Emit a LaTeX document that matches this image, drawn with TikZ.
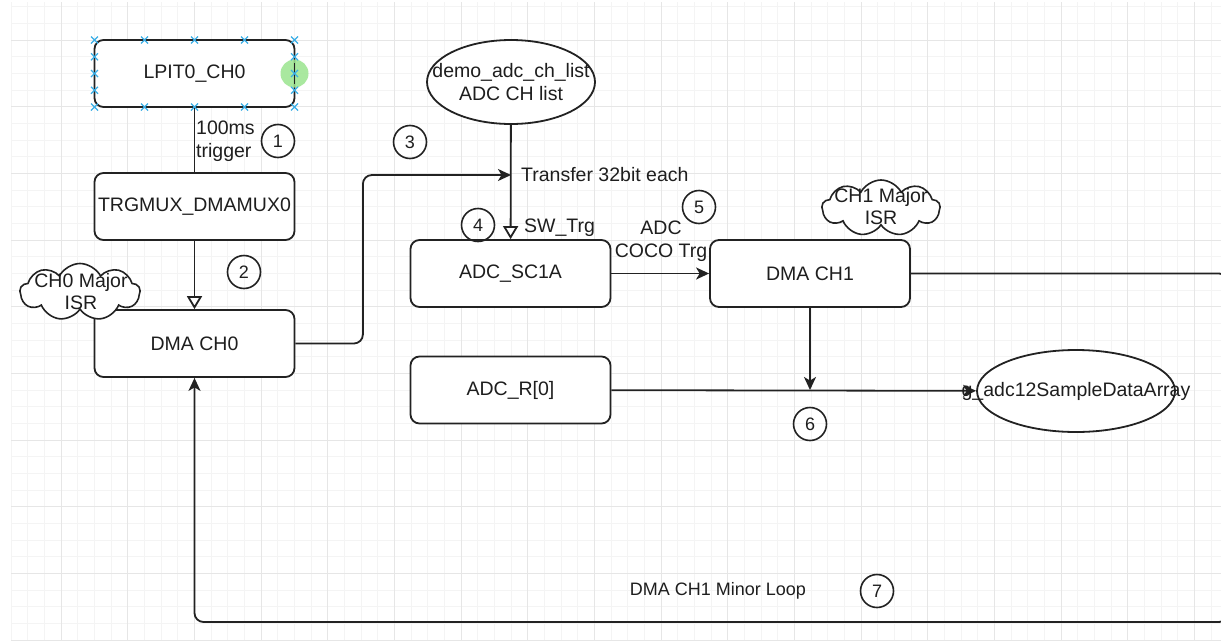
\documentclass[tikz,border=0pt]{standalone}
\usepackage{fontspec}
\setmainfont{Liberation Sans}
\usetikzlibrary{arrows.meta,shapes.geometric,shapes.symbols,calc}
\definecolor{ink}{HTML}{222222}
\definecolor{txt}{HTML}{1E1E1E}
\definecolor{gminor}{HTML}{F4F4F4}
\definecolor{gmajor}{HTML}{E6E6E6}
\definecolor{selblue}{HTML}{3AAEE6}
\definecolor{selgreen}{HTML}{9BE58F}
\tikzset{
  base/.style={text=txt,font=\fontsize{19.5}{23}\selectfont,inner sep=0pt},
  box/.style={base,draw=ink,line width=1.8pt,rounded corners=9pt,fill=white,minimum width=200pt,minimum height=67pt},
  oval/.style={base,draw=ink,line width=1.8pt,ellipse,fill=white},
  puff/.style={draw=ink,line width=1.6pt,cloud,cloud puffs=9,cloud puff arc=125,aspect=2.1,fill=white,inner sep=0pt,minimum width=120pt,minimum height=57pt},
  num/.style={base,circle,draw=ink,line width=1.6pt,minimum size=33pt,font=\fontsize{18}{20}\selectfont},
  lbl/.style={base,align=left},
  wire/.style={draw=ink,line width=1.8pt},
  fillarrow/.style={wire,-{Stealth[length=13pt,width=12pt,inset=3.5pt]}},
  openarrow/.style={wire,-{Triangle[open,length=13pt,width=15pt,fill=white]}},
  mk/.style={draw=selblue,line width=1.2pt},
  minorg/.style={draw=gminor,line width=1pt},
  majorg/.style={draw=gmajor,line width=1pt}
}
\begin{document}
\begin{tikzpicture}[x=1pt,y=-1pt]
\useasboundingbox (0,0) rectangle (1221,640);
\clip (0,0) rectangle (1221,640);
\fill[white] (0,0) rectangle (1221,640);
% grid
\foreach \i in {0,...,73} {\draw[minorg] ({11+\i*16.6667},2) -- ({11+\i*16.6667},640);}
\foreach \j in {0,...,38} {\draw[minorg] (11,{6.6667+\j*16.6667}) -- (1221,{6.6667+\j*16.6667});}
\foreach \i in {0,...,17} {\draw[majorg] ({61+\i*66.6667},2) -- ({61+\i*66.6667},640);}
\foreach \j in {0,...,9} {\draw[majorg] (11,{40+\j*66.6667}) -- (1221,{40+\j*66.6667});}

% nodes
\node[box] (lpit) at (194.5,73.5) {LPIT0\_CH0};
\node[box] (trg) at (194.5,206.5) {TRGMUX\_DMAMUX0};
\node[box] (dma0) at (194.5,343.5) {DMA CH0};
\node[oval,minimum width=168pt,minimum height=84pt] (ell1) at (511,82) {};
\node[box] (sc1a) at (510.5,273.5) {ADC\_SC1A};
\node[box] (dma1) at (810,273.5) {DMA CH1};
\node[box] (adcr) at (510.5,390) {ADC\_R[0]};
\node[oval,minimum width=198pt,minimum height=82pt] (ell2) at (1076,391) {};
\node[puff] (cl0) at (80,292) {};
\node[puff,minimum width=118pt,minimum height=56pt] (cl1) at (881,208) {};
\node[base,align=center] (ell1t) at (ell1.center) {demo\_adc\_ch\_list\\ADC CH list};
\node[base,align=center] (cl0t) at (81,291.5) {CH0 Major\\[-1pt]ISR};
\node[base,align=center] (cl1t) at (881,207) {CH1 Major\\[-1pt]ISR};

% selection markers on LPIT0_CH0
\fill[selgreen,fill opacity=0.85] (294.5,73.5) circle (14pt);
\draw[ink,line width=1.8pt] (294.5,63) -- (294.5,84);
\foreach \x in {94.5,144.5,194.5,244.5,294.5}
  \foreach \y in {40,107}
    {\draw[mk] (\x,\y) ++(-3.5,-3.5) -- ++(7,7) ++(-7,0) -- ++(7,-7);}
\foreach \x in {94.5,294.5}
  \foreach \y in {56.75,73.5,90.25}
    {\draw[mk] (\x,\y) ++(-3.5,-3.5) -- ++(7,7) ++(-7,0) -- ++(7,-7);}

% connectors
\coordinate (j) at (511,175);
\coordinate (r1) at (1228,273.5);
\coordinate (r2) at (1228,622);
\draw[wire] (lpit) -- (trg);
\draw[openarrow] (trg) -- (dma0);
\draw[openarrow] (ell1) -- (sc1a);
\draw[fillarrow,rounded corners=9pt] (dma0.east) -- ++(67.5,0) |- (j);
\draw[fillarrow] (sc1a) -- (dma1);
\draw[fillarrow] (dma1) -- (dma1 |- adcr);
\draw[fillarrow] (adcr) -- (ell2);
\draw[fillarrow,rounded corners=9pt] (dma1.east) -- (r1) -- (r2) -| (dma0.south);

% text over ellipse 2
\node[base] (ell2t) at (ell2.center) {g\_adc12SampleDataArray};

% labels
\node[lbl,anchor=west] (l1) at (196,141.5) {100ms\\trigger};
\node[lbl,anchor=west] (l3) at (521,175) {Transfer 32bit each};
\node[lbl,anchor=west] (l4) at (524,228) {SW\_Trg};
\node[base,align=center] (l5) at (661,241) {ADC\\COCO Trg};
\node[base,font=\fontsize{18}{20}\selectfont] (l7) at (718,591) {DMA CH1 Minor Loop};

\node[num] (n1) at (278,141) {1};
\node[num] (n2) at (244,272) {2};
\node[num] (n3) at (410,142) {3};
\node[num] (n4) at (478,225) {4};
\node[num] (n5) at (699,207) {5};
\node[num] (n6) at (810,424) {6};
\node[num] (n7) at (877,591) {7};
\end{tikzpicture}
\end{document}
